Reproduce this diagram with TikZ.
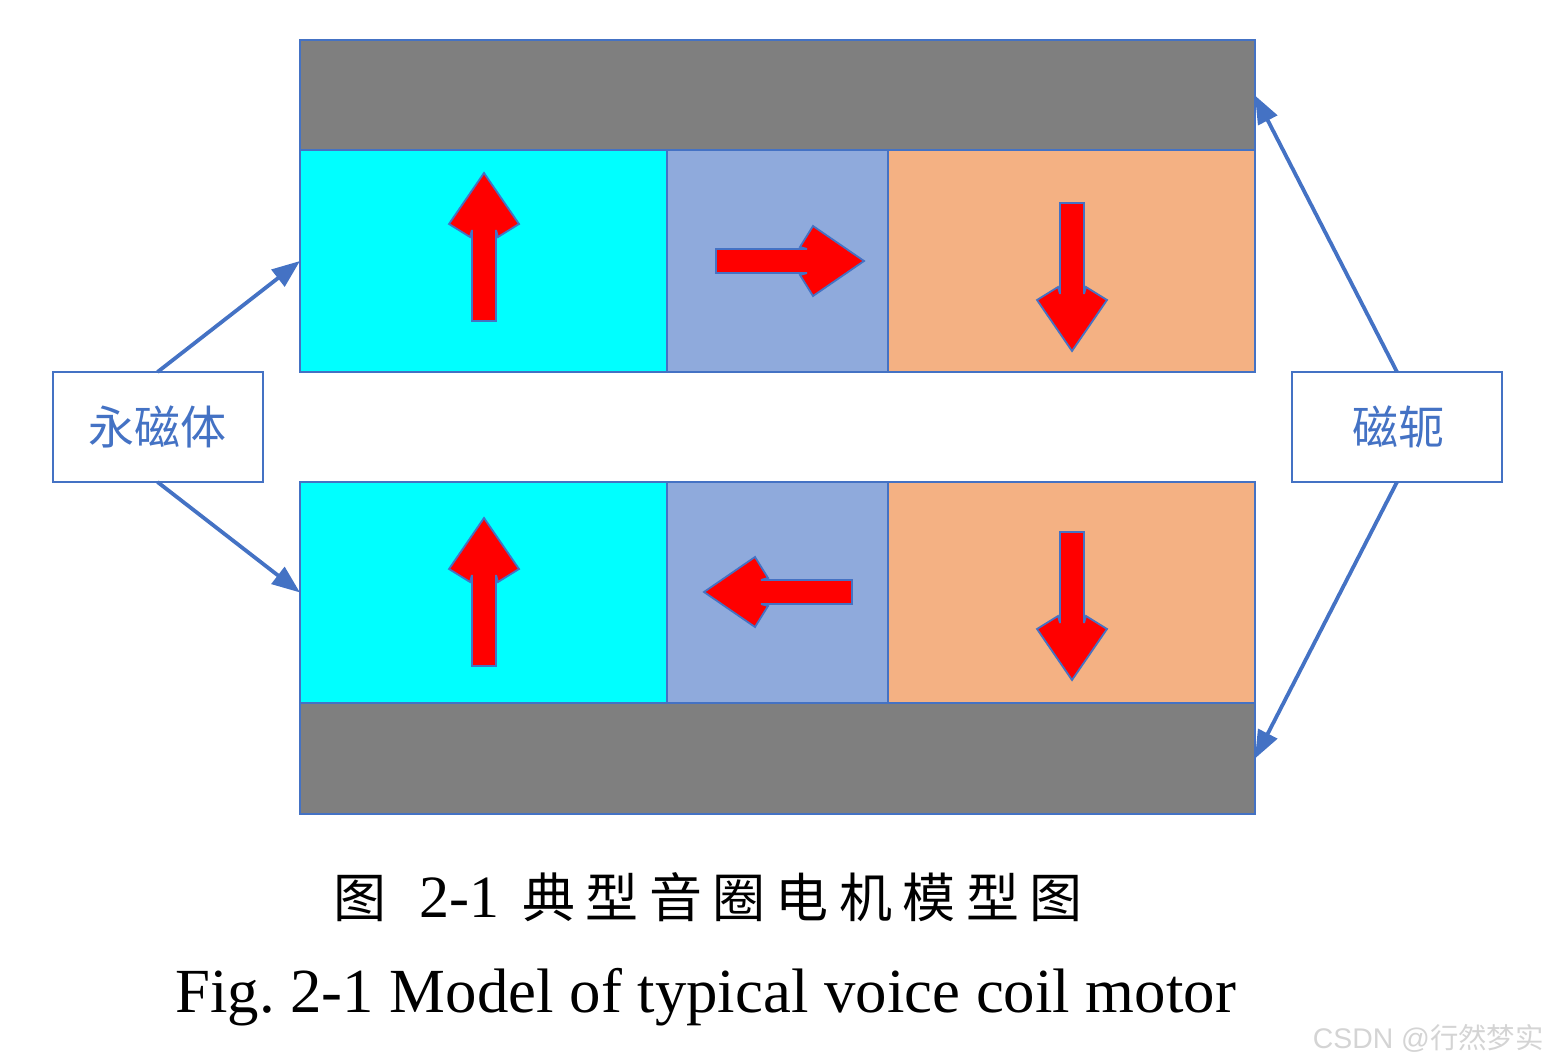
\documentclass[tikz,border=0pt]{standalone}
\usepackage{fontspec}
\setmainfont{Liberation Serif}
\newfontfamily\cjk{Noto Sans CJK SC}
\newfontfamily\wmfont{Liberation Sans}
\usetikzlibrary{arrows.meta}
\definecolor{edgeblue}{HTML}{4472C4}
\definecolor{yokegray}{HTML}{7F7F7F}
\definecolor{midblue}{HTML}{8FAADC}
\definecolor{southorange}{HTML}{F4B183}
\definecolor{northcyan}{HTML}{00FFFF}
\definecolor{arrowred}{HTML}{FF0000}
\definecolor{marksgray}{HTML}{D4D4D4}
\newcommand\lsp{\hspace{5.2pt}}
\tikzset{
  block/.style={draw=edgeblue,line width=1pt,inner sep=0pt,outer sep=0pt,anchor=north west},
  yoke/.style={block,fill=yokegray,minimum width=477.5pt,minimum height=55.5pt},
  sidemag/.style={block,minimum width=183.5pt,minimum height=110.5pt},
  midmag/.style={block,fill=midblue,minimum width=110.5pt,minimum height=110.5pt},
  labelbox/.style={draw=edgeblue,line width=1pt,fill=white,inner sep=0pt,outer sep=0pt,
    minimum width=105pt,minimum height=55pt,text=edgeblue,font=\cjk\fontsize{23}{25}\selectfont},
  pointer/.style={draw=edgeblue,line width=1.9pt,-{Triangle[length=14pt,width=10.5pt]}},
  redarrow/.style={draw=edgeblue,line width=.9pt,fill=arrowred,line join=miter,miter limit=3},
}
\begin{document}
\begin{tikzpicture}[x=0.5pt,y=-0.5pt]
\useasboundingbox (0,0) rectangle (1547,1064);
\node[yoke] (yoketop) at (300,40) {};
\node[sidemag,fill=northcyan] (magA) at (300,150.5) {};
\node[midmag] (magB) at (667,150.5) {};
\node[sidemag,fill=southorange] (magC) at (888,150.5) {};
\node[sidemag,fill=northcyan] (magD) at (300,482) {};
\node[midmag] (magE) at (667,482) {};
\node[sidemag,fill=southorange] (magF) at (888,482) {};
\node[yoke] (yokebot) at (300,703) {};
\node[labelbox] (perm) at (157.5,427) {永磁体};
\node[labelbox] (yokelabel) at (1397,427) {\hspace{1pt}磁轭};
\draw[pointer] (perm.north) -- (magA.west);
\draw[pointer] (perm.south) -- (magD.west);
\draw[pointer] (yokelabel.north) -- (yoketop.east);
\draw[pointer] (yokelabel.south) -- (yokebot.east);
\foreach \tx/\ty/\ang in {484/173/0,484/518/0,864/261/-90,704/592/90,1072/351/180,1072/680/180}{
  \draw[redarrow,shift={(\tx,\ty)},rotate=\ang]
    (0,0) -- (35,51) -- (14,64) -- (12,57) -- (12,148) -- (-12,148) -- (-12,57) -- (-14,64) -- (-35,51) -- cycle;
}
\node[anchor=base west,inner sep=0pt,font=\fontsize{26.5}{28}\selectfont] (capcn) at (333,917)
  {{\cjk 图}\hspace{16.5pt}\fontsize{30}{32}\selectfont 2-1\hspace{11.5pt}\fontsize{26.5}{28}\selectfont\cjk 典\lsp 型\lsp 音\lsp 圈\lsp 电\lsp 机\lsp 模\lsp 型\lsp 图};
\node[anchor=base west,inner sep=0pt,font=\fontsize{31.4}{34}\selectfont] (capen) at (175,1012)
  {\frenchspacing Fig. 2-1 Model of typical voice coil motor};
\node[anchor=base east,inner sep=0pt,text=marksgray,font=\wmfont\fontsize{14.2}{16}\selectfont] (mark) at (1544,1048)
  {CSDN @{\cjk 行然梦实}};
\end{tikzpicture}
\end{document}
